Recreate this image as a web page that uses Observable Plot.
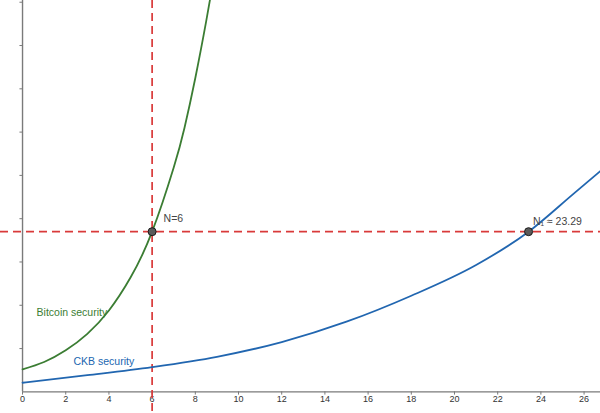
<!DOCTYPE html>
<html>
<head>
<meta charset="utf-8">
<script src="https://cdn.jsdelivr.net/npm/d3@7"></script>
<script src="https://cdn.jsdelivr.net/npm/@observablehq/plot@0.6"></script>
<style>
  html, body { margin: 0; padding: 0; background: #fff; }
  svg { display: block; }
</style>
</head>
<body>
<div id="chart"></div>
<script>
// Bitcoin security curve
const btcX = [0, 1, 2, 3, 4, 5, 6, 7, 7.5, 8, 8.5, 8.8];
const btcY = [0.52, 0.69, 0.96, 1.34, 1.88, 2.64, 3.70, 5.18, 6.1, 7.25, 8.55, 9.4];
// CKB security curve
const ckbX = [0, 3, 6, 9, 12, 15, 18, 21, 23.43, 25.52, 26.8];
const ckbY = [0.21, 0.385, 0.573, 0.81, 1.15, 1.62, 2.22, 2.93, 3.70, 4.58, 5.12];
// intersection points (as placed in the picture)
const pointX = [6, 23.43];
const pointY = [3.70, 3.70];
const pointLabels = ["N=6", "N\u2081 \u2248 23.29"];
// reference lines
const refX = 6;
const refY = 3.70;
// ticks
const xTicks = [0, 2, 4, 6, 8, 10, 12, 14, 16, 18, 20, 22, 24, 26];
const yTicks = [1, 2, 3, 4, 5, 6, 7, 8, 9];
// curve labels
const curveLabels = ["Bitcoin security", "CKB security"];

const btc = btcX.map((x, i) => ({x, y: btcY[i]}));
const ckb = ckbX.map((x, i) => ({x, y: ckbY[i]}));
const pts = pointX.map((x, i) => ({x, y: pointY[i], label: pointLabels[i]}));

const green = "#3b7d33";
const blue = "#2166b0";
const red = "#d93a3a";
const axisColor = "#7a7a7a";
const font = "'Liberation Sans', Arial, sans-serif";

const xMin = -1.02, xMax = 26.76, yMin = -0.5, yMax = 9.04;

const chart = Plot.plot({
  width: 600,
  height: 413,
  margin: 0,
  style: {background: "#fff", fontFamily: font},
  x: {domain: [xMin, xMax], axis: null},
  y: {domain: [yMin, yMax], axis: null},
  marks: [
    // axes
    Plot.ruleY([0], {x1: 0, x2: xMax, stroke: axisColor, strokeWidth: 1.4}),
    Plot.ruleX([0], {y1: 0, y2: yMax, stroke: axisColor, strokeWidth: 1.4}),
    Plot.ruleX(xTicks, {x: d => d, y1: 0, y2: -0.075, stroke: axisColor, strokeWidth: 1}),
    Plot.ruleY(yTicks, {y: d => d, x1: 0, x2: -0.12, stroke: axisColor, strokeWidth: 1}),
    Plot.text(xTicks, {x: d => d, y: 0, dy: 7.5, text: d => String(d), fontSize: 9, fill: "#333"}),
    // reference dashed lines
    Plot.ruleX([refX], {stroke: red, strokeWidth: 1.7, strokeDasharray: "8,5"}),
    Plot.ruleY([refY], {stroke: red, strokeWidth: 1.7, strokeDasharray: "8,5"}),
    // curves
    Plot.line(btc, {x: "x", y: "y", curve: "natural", stroke: green, strokeWidth: 1.8, clip: true}),
    Plot.line(ckb, {x: "x", y: "y", curve: "monotone-x", stroke: blue, strokeWidth: 1.8, clip: true}),
    // curve labels
    Plot.text([curveLabels[0]], {x: 0.65, y: 1.82, text: d => d, textAnchor: "start", fontSize: 10.5, fill: green}),
    Plot.text([curveLabels[1]], {x: 2.36, y: 0.70, text: d => d, textAnchor: "start", fontSize: 10.5, fill: blue}),
    // intersection points
    Plot.dot(pts, {x: "x", y: "y", r: 4, fill: "#5a5a5a", stroke: "#1a1a1a", strokeWidth: 1}),
    Plot.text(pts, {x: d => d.x < 10 ? 6.53 : 23.63, y: d => d.x < 10 ? 4.0 : 3.94, text: "label", textAnchor: "start", fontSize: 10.5, fill: "#444"})
  ]
});
document.getElementById("chart").appendChild(chart);
</script>
</body>
</html>
